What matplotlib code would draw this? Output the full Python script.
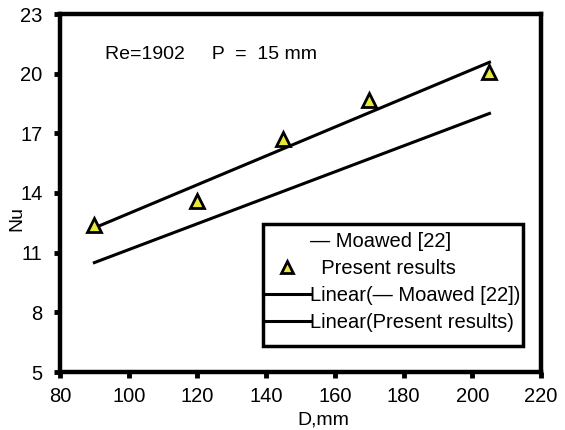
import matplotlib
matplotlib.use("Agg")
import matplotlib.pyplot as plt
import numpy as np
from matplotlib.lines import Line2D
from matplotlib.patches import Rectangle

plt.rcParams['font.family'] = ['Liberation Sans', 'DejaVu Sans']

# present results
d_present = [90, 120, 145, 170, 205]
nu_present = [12.4, 13.6, 16.7, 18.7, 20.1]

# Moawed [22] correlation, end points
d_moawed = [90, 205]
nu_moawed = [10.5, 18.0]

x_ticks = [80, 100, 120, 140, 160, 180, 200, 220]
y_ticks = [5, 8, 11, 14, 17, 20, 23]

W, H = 565, 430
fig = plt.figure(figsize=(W / 100, H / 100), dpi=100)
ax = fig.add_axes([60 / W, 1 - 372 / H, 481 / W, 358 / H])

# linear trend lines
p_fit = np.polyfit(d_present, nu_present, 1)
m_fit = np.polyfit(d_moawed, nu_moawed, 1)
xs = np.array([min(d_present), max(d_present)])
ax.plot(xs, np.polyval(m_fit, xs), color='black', lw=2.2, zorder=2)
ax.plot(xs, np.polyval(p_fit, xs), color='black', lw=2.2, zorder=2)

ax.plot(d_present, nu_present, linestyle='none', marker='^', markersize=10,
        markerfacecolor='#e8e838', markeredgecolor='black', markeredgewidth=2, zorder=3)

ax.set_xlim(80, 220)
ax.set_ylim(5, 23)
ax.set_xticks(x_ticks)
ax.set_yticks(y_ticks)
ax.tick_params(direction='out', length=4.5, width=3.5, labelsize=14.5)
ax.tick_params(axis='x', pad=6)
ax.tick_params(axis='y', pad=8)
for s in ax.spines.values():
    s.set_linewidth(3.2)

ax.text(93, 20.95, "Re=1902     P  =  15 mm", fontsize=14, va='center', ha='left')

fig.text(17 / W, 1 - 218 / H, "Nu", rotation=90, fontsize=14, ha='center', va='center')
fig.text(323 / W, 1 - 420 / H, "D,mm", fontsize=14, ha='center', va='center')

handles = [
    Line2D([], [], linestyle='none'),
    Line2D([], [], linestyle='none', marker='^', markersize=8,
           markerfacecolor='#e8e838', markeredgecolor='black', markeredgewidth=2),
    Line2D([], [], color='black', lw=2.2),
    Line2D([], [], color='black', lw=2.2),
]
labels = [
    "— Moawed [22]",
    "  Present results",
    "Linear(— Moawed [22])",
    "Linear(Present results)",
]
leg = ax.legend(handles, labels, loc='upper left', bbox_to_anchor=(263 / W, 1 - 232 / H),
                bbox_transform=fig.transFigure, fontsize=14.5, frameon=False,
                borderpad=0, handlelength=2.35, handletextpad=0.0,
                labelspacing=0.4, borderaxespad=0)

# legend frame
fig.patches.append(Rectangle((263 / W, 1 - 346 / H), 260 / W, 122 / H,
                             transform=fig.transFigure, fill=False,
                             edgecolor='black', linewidth=2.5, zorder=5))

fig.savefig("out.png", dpi=100)
